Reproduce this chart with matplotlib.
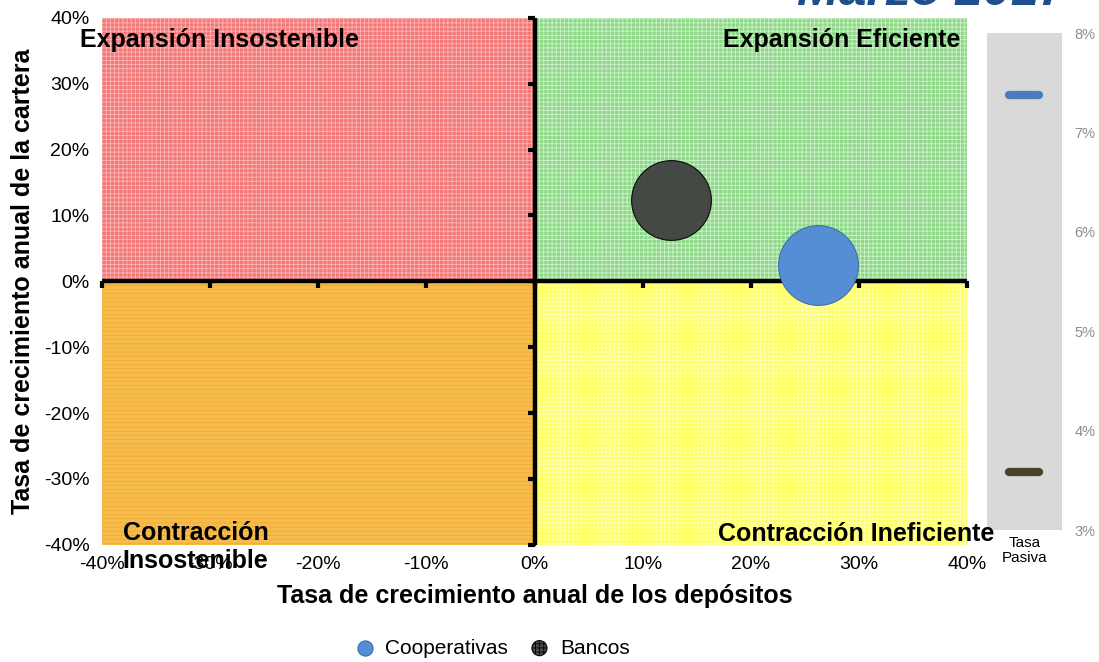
import matplotlib.pyplot as plt
from matplotlib.patches import Rectangle

# growth of deposits (x) and loan portfolio (y), in %
entities = ["Cooperativas", "Bancos"]
dep_growth = [26.2, 12.6]
loan_growth = [2.5, 12.4]
bubble_size = [3300, 3300]
bubble_colors = ["#558ed5", "#3c3c3c"]

# passive rate, in %
tasa_pasiva = [7.38, 3.59]
pasiva_colors = ["#4a7ebb", "#4a4328"]

x_ticks = [-40, -30, -20, -10, 0, 10, 20, 30, 40]
y_ticks = [-40, -30, -20, -10, 0, 10, 20, 30, 40]
pasiva_ticks = [3, 4, 5, 6, 7, 8]

quadrants = [
    # x0, y0, w, h, colour, hatch colour, hatch
    (-40, 0, 40, 40, "#f27878", "#ffb4b4", "++++"),
    (0, 0, 40, 40, "#8fd88a", "#cdf2c9", "++++"),
    (-40, -40, 40, 40, "#f6bb4a", "#eeaa35", "----"),
    (0, -40, 40, 40, "#ffff66", "#ffffb0", "++++"),
]

plt.rcParams["font.family"] = ["Liberation Sans", "DejaVu Sans"]
plt.rcParams["hatch.linewidth"] = 0.6

fig = plt.figure(figsize=(10.99, 6.62), dpi=100)
ax = fig.add_axes([0.0928, 0.177, 0.7872, 0.796])

for x0, y0, w, h, fc, hc, hatch in quadrants:
    ax.add_patch(Rectangle((x0, y0), w, h, facecolor=fc, edgecolor=hc,
                           hatch=hatch, linewidth=0, zorder=0))

ax.axhline(0, color="black", lw=3.2, zorder=2)
ax.axvline(0, color="black", lw=3.2, zorder=2)

for name, x, y, s, c in zip(entities, dep_growth, loan_growth, bubble_size, bubble_colors):
    if name == "Bancos":
        ax.scatter(x, y, s=s, color=c, edgecolors="black", linewidths=0.8,
                   alpha=0.92, zorder=3, label=name)
    else:
        ax.scatter(x, y, s=s, color=c, edgecolors="#3f6fa8", linewidths=0.8,
                   zorder=3, label=name)

ax.set_xlim(-40, 40)
ax.set_ylim(-40, 40)
ax.set_xticks(x_ticks)
ax.set_yticks(y_ticks)
ax.set_xticklabels([f"{t}%" for t in x_ticks], fontsize=14)
ax.set_yticklabels([f"{t}%" for t in y_ticks], fontsize=14)
ax.tick_params(axis="x", length=0, pad=8)
ax.tick_params(axis="y", length=0, pad=9)
for sp in ax.spines.values():
    sp.set_visible(False)

# small tick marks along the zero lines
secx = ax.secondary_xaxis(0.5)
secx.set_xticks(x_ticks)
secx.set_xticklabels([])
secx.tick_params(direction="in", length=5, width=3, color="black")
secx.spines["bottom"].set_visible(False)
secy = ax.secondary_yaxis(0.5)
secy.set_yticks(y_ticks)
secy.set_yticklabels([])
secy.tick_params(direction="in", length=5, width=3, color="black")
secy.spines["left"].set_visible(False)

ax.set_xlabel("Tasa de crecimiento anual de los depósitos", fontsize=18,
              fontweight="bold", labelpad=8)
ax.set_ylabel("Tasa de crecimiento anual de la cartera", fontsize=18,
              fontweight="bold", labelpad=6)

lbl = dict(fontsize=18, fontweight="bold", color="black", zorder=4)
fig.text(0.073, 0.939, "Expansión Insostenible", ha="left", va="center", **lbl)
fig.text(0.874, 0.939, "Expansión Eficiente", ha="right", va="center", **lbl)
fig.text(0.905, 0.194, "Contracción Ineficiente", ha="right", va="center", **lbl)
fig.text(0.178, 0.174, "Contracción\nInsostenible", ha="center", va="center",
         linespacing=1.2, **lbl)

fig.text(0.97, 0.992, "Marzo 2017", ha="right", va="baseline", fontsize=36,
         fontweight="bold", style="italic", color="#1f4e8c")

leg = fig.legend(loc="center", bbox_to_anchor=(0.443, 0.021), ncol=2, frameon=False,
                 fontsize=15, handletextpad=0.0, columnspacing=0.5, markerscale=0.19)
leg.legend_handles[1].set_hatch("++++")
leg.legend_handles[1].set_edgecolor("black")

# passive rate panel
ax2 = fig.add_axes([0.898, 0.199, 0.068, 0.751])
ax2.set_facecolor("#d9d9d9")
ax2.hlines(tasa_pasiva, 0.3, 0.7, colors=pasiva_colors, lw=6, capstyle="round")
ax2.set_xlim(0, 1)
ax2.set_ylim(3, 8)
ax2.set_xticks([])
ax2.set_yticks(pasiva_ticks)
ax2.set_yticklabels([f"{t}%" for t in pasiva_ticks], fontsize=10.5, color="#8c8c8c")
ax2.yaxis.tick_right()
ax2.tick_params(length=0, pad=9)
for sp in ax2.spines.values():
    sp.set_visible(False)
ax2.set_xlabel("Tasa\nPasiva", fontsize=11, labelpad=4, linespacing=1.1)

fig.savefig("out.png", dpi=100)
